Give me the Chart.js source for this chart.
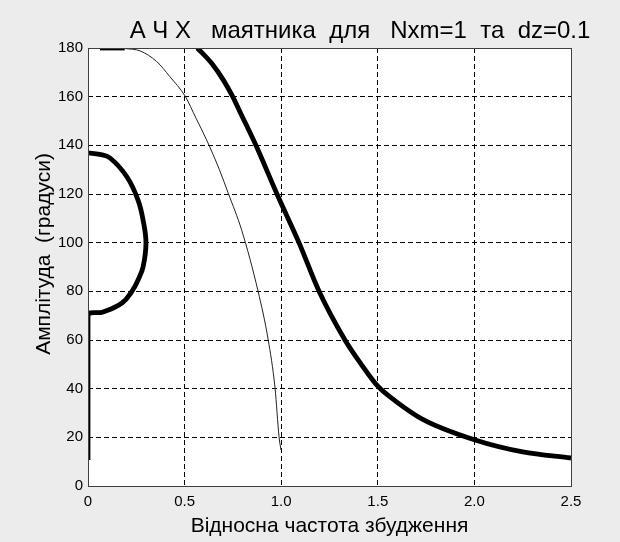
<!DOCTYPE html>
<html>
<head>
<meta charset="utf-8">
<script src="https://cdn.jsdelivr.net/npm/chart.js@4/dist/chart.umd.min.js"></script>
<style>
  html, body { margin: 0; padding: 0; background: #ececec; }
  #wrap { width: 620px; height: 542px; }
</style>
</head>
<body>
<div id="wrap"><canvas id="chart" width="620" height="542"></canvas></div>
<script>
// Axis ticks
const xTicks = [0, 0.5, 1, 1.5, 2, 2.5];
const yTicks = [0, 20, 40, 60, 80, 100, 120, 140, 160, 180];

// Thin curve (backbone)
const thinFreq = [0.19, 0.27, 0.356, 0.424, 0.502, 0.56, 0.614, 0.68, 0.726, 0.796, 0.88, 0.932, 0.968, 0.989, 0.999];
const thinAmp  = [179.8, 178.8, 174.4, 168.2, 160.3, 151, 142.2, 130, 120.3, 105, 80.1, 60.4, 40.3, 20.1, 14.8];

// Thick curve, main branch
const mainFreq = [0.566, 0.64, 0.70, 0.747, 0.79, 0.868, 0.978, 1.092, 1.196, 1.33, 1.41, 1.50, 1.59, 1.73, 2.0, 2.25, 2.5];
const mainAmp  = [180, 173.7, 166.9, 160.3, 153.2, 140.2, 120, 100, 80, 60, 50.5, 41, 35, 27.5, 19, 14, 11.5];

// Thick curve, closed loop near zero + vertical part on the axis
const loopFreq = [0, 0.06, 0.114, 0.202, 0.259, 0.285, 0.300, 0.285, 0.259, 0.228, 0.176, 0.078, 0, 0];
const loopAmp  = [136.9, 136.3, 134.8, 127, 117.5, 109.3, 99.9, 90, 84.7, 80.1, 75.2, 71.5, 69.9, 10.7];

// Thick short piece on the upper edge
const topFreq = [0.062, 0.19];
const topAmp  = [180, 180];

const pts = (xs, ys) => xs.map((x, i) => ({ x: x, y: ys[i] }));

const FONT = '"Liberation Sans", Arial, sans-serif';

const frame = {
    id: 'frame',
    beforeDraw(chart) {
        const { ctx, chartArea: a } = chart;
        ctx.save();
        ctx.fillStyle = '#ececec';
        ctx.fillRect(0, 0, chart.width, chart.height);
        ctx.fillStyle = '#ffffff';
        ctx.fillRect(a.left, a.top, a.right - a.left, a.bottom - a.top);
        ctx.restore();
    },
    afterDraw(chart) {
        const { ctx, chartArea: a } = chart;
        ctx.save();
        ctx.strokeStyle = '#404040';
        ctx.lineWidth = 1;
        ctx.strokeRect(Math.round(a.left) + 0.5, Math.round(a.top) + 0.5,
            Math.round(a.right - a.left), Math.round(a.bottom - a.top));

        ctx.fillStyle = '#000';
        ctx.textAlign = 'center';
        ctx.textBaseline = 'middle';
        // plot title
        ctx.font = '24px ' + FONT;
        ctx.fillText('А Ч Х   маятника  для   Nxm=1  та  dz=0.1', 360, 31);
        // y axis title
        ctx.font = '21px ' + FONT;
        ctx.translate(44, 254);
        ctx.rotate(-Math.PI / 2);
        ctx.fillText('Амплітуда  (градуси)', 0, 0);
        ctx.restore();
    }
};

const gridColor = (edges) => (c) => edges.includes(c.tick.value) ? 'rgba(0,0,0,0)' : '#000';
const tickFont = { family: FONT, size: 15 };
const titleFont = { family: FONT, size: 21 };

new Chart(document.getElementById('chart'), {
    type: 'scatter',
    data: {
        datasets: [
            { data: pts(thinFreq, thinAmp), borderColor: '#222', borderWidth: 1, cubicInterpolationMode: 'monotone' },
            { data: pts(mainFreq, mainAmp), borderColor: '#000', borderWidth: 4.8, cubicInterpolationMode: 'monotone' },
            { data: pts(loopFreq, loopAmp), borderColor: '#000', borderWidth: 4.8, tension: 0.4 },
            { data: pts(topFreq, topAmp), borderColor: '#000', borderWidth: 4.8 }
        ]
    },
    options: {
        responsive: false,
        animation: false,
        showLine: true,
        elements: {
            point: { radius: 0, hoverRadius: 0 },
            line: { borderJoinStyle: 'round', fill: false }
        },
        layout: { padding: { top: 48, right: 49, left: 0, bottom: 0 } },
        plugins: {
            legend: { display: false },
            tooltip: { enabled: false }
        },
        scales: {
            x: {
                type: 'linear',
                min: 0,
                max: 2.5,
                afterBuildTicks: (s) => { s.ticks = xTicks.map(v => ({ value: v })); },
                afterFit: (s) => { s.height = 56; },
                border: { display: false, dash: [5, 3] },
                grid: { color: gridColor([0, 2.5]), lineWidth: 1, drawTicks: false },
                ticks: { color: '#000', font: tickFont, padding: 7, maxRotation: 0 },
                title: { display: true, text: 'Відносна частота збудження', color: '#000', font: titleFont, padding: { top: 0, bottom: 3 } }
            },
            y: {
                type: 'linear',
                min: 0,
                max: 180,
                afterBuildTicks: (s) => { s.ticks = yTicks.map(v => ({ value: v })); },
                afterFit: (s) => { s.width = 88; },
                border: { display: false, dash: [5, 3] },
                grid: { color: gridColor([0, 180]), lineWidth: 1, drawTicks: false },
                ticks: { color: '#000', font: tickFont, padding: 5 }
            }
        }
    },
    plugins: [frame]
});
</script>
</body>
</html>
